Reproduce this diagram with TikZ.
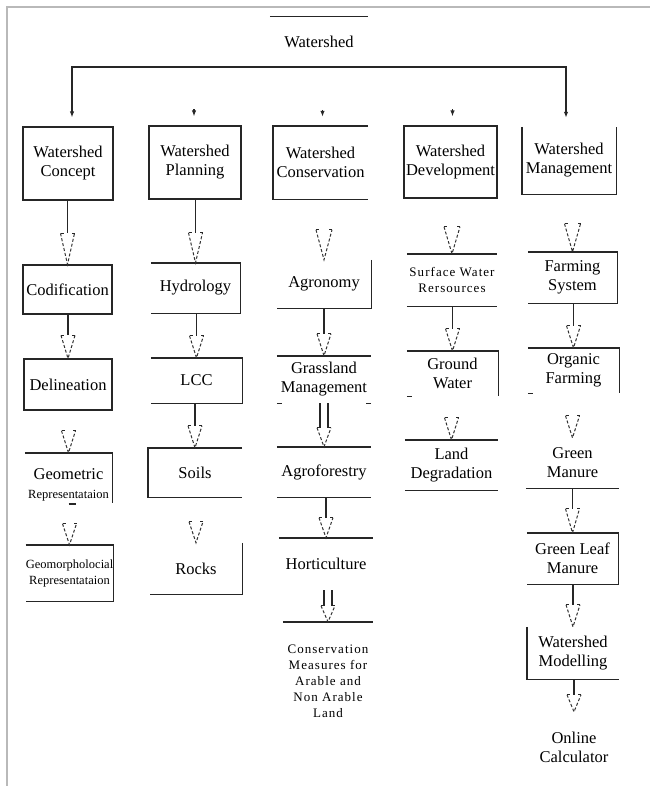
\documentclass[tikz,border=0pt]{standalone}
\usepackage{fontspec}
\setmainfont{Liberation Serif}
\usetikzlibrary{calc,arrows.meta}

% solid shaft from the bottom of #1 down to the top of the head above #2
\newcommand{\flowstem}[3]{\draw[stemline] (#1.south -| #2.north) -- ($(#2.north)+(0,-#3)$);}
% two parallel shafts
\newcommand{\flowtwin}[3]{\draw[stemline] ($(#1.south -| #2.north)+(-4,0)$) -- ($(#2.north)+(-4,-#3)$)
  ($(#1.south -| #2.north)+(4,0)$) -- ($(#2.north)+(4,-#3)$);}
% open dashed head with its tip on top of #2
\newcommand{\flowhead}[3][7]{\draw[headline] ($(#2.north)+(-#1,-#3)$) -- (#2.north) -- ($(#2.north)+(#1,-#3)$);
  \draw[stemline,line width=1bp] ($(#2.north)+(-#1,-#3)$) -- ++(3,0) ($(#2.north)+(#1,-#3)$) -- ++(-3,0);}

\begin{document}
\begin{tikzpicture}[x=1bp,y=-1bp,>={Latex[length=6bp,width=4.5bp]},
  lab/.style={align=center,inner sep=0pt,font=\fontsize{16.5bp}{19bp}\selectfont},
  sublab/.style={lab,font=\fontsize{13bp}{16bp}\selectfont\addfontfeatures{LetterSpace=8}},
  finelab/.style={lab,font=\fontsize{12.5bp}{16bp}\selectfont},
  box/.style 2 args={minimum width=#1bp,minimum height=#2bp},
  framed/.style={draw=black!85,line width=1.2bp},
  edge/.style={draw=black!85,line width=1.4bp},
  stemline/.style={draw=black!85,line width=1.3bp},
  headline/.style={draw=black!80,line width=1bp,dash pattern=on 3bp off 2bp}]
\useasboundingbox (0,0) rectangle (650,786);
\draw[gray!55,line width=1.5bp] (7,786) -- (7,7) -- (650,7);

\node (root) at (319,42)[lab,box={98}{50}]{Watershed};
\draw[edge] (root.north west) -- (root.north east);

% column 1
\node (concept) at (68,163.5)[lab,framed,box={90}{73}]{Watershed\\Concept};
\node (codif) at (67.5,289.5)[lab,framed,box={89}{49}]{Codification};
\node (delin) at (68,384.5)[lab,framed,box={88}{51}]{Delineation};
\node (geomet) at (68.5,485)[lab,box={87}{64}]{Geometric\\{\fontsize{12.5bp}{15bp}\selectfont Representataion}};
\node (geomorph) at (69.5,573)[finelab,box={85}{56}]{Geomorpholocial\\Representataion};

% column 2
\node (planning) at (195,162.5)[lab,framed,box={92}{73}]{Watershed\\Planning};
\node (hydro) at (195.5,288)[lab,box={89}{50}]{Hydrology};
\node (lcc) at (196.5,380.5)[lab,box={91}{45}]{LCC};
\node (soils) at (195,472.5)[lab,box={94}{49}]{Soils};
\node (rocks) at (196,568.5)[lab,box={92}{51}]{Rocks};

% column 3
\node (conserv) at (320.5,162.5)[lab,box={95}{73}]{Watershed\\Conservation};
\node (agron) at (324,284)[lab,box={94}{48}]{Agronomy};
\node (grass) at (324,379.5)[lab,box={94}{47}]{Grassland\\Management};
\node (agrofor) at (324,472)[lab,box={94}{50}]{Agroforestry};
\node (horti) at (326,564)[lab,box={94}{52}]{Horticulture};
\node (consmeas) at (328,681.5)[sublab,box={90}{119}]{Conservation\\Measures for\\Arable and\\Non Arable\\Land};

% column 4
\node (develop) at (450.5,162)[lab,framed,box={93}{72}]{Watershed\\Development};
\node (surface) at (452,280)[sublab,box={90}{52}]{Surface Water\\Rersources};
\node (ground) at (452.5,373.5)[lab,box={91}{45}]{Ground\\Water};
\node (landdeg) at (451.5,465)[lab,box={93}{50}]{Land\\Degradation};

% column 5
\node (manage) at (569,160.5)[lab,box={94}{67}]{Watershed\\Management};
\node (farming) at (572.5,277.5)[lab,box={89}{51}]{Farming\\System};
\node (organic) at (573.5,370.5)[lab,box={91}{45}]{Organic\\Farming};
\node (greenman) at (572.5,463)[lab,box={93}{50}]{Green\\Manure};
\node (greenleaf) at (572.5,558.5)[lab,box={91}{51}]{Green Leaf\\Manure};
\node (model) at (573,653)[lab,box={92}{52}]{Watershed\\Modelling};
\node (online) at (574,747)[lab,box={88}{70}]{Online\\Calculator};

% broken box outlines
\draw[edge] (geomet.north west) -- (geomet.north east) -- ++(0,50);
\draw[edge] ($(geomet.north)+(0,51)$) -- ++(7,0);
\draw[edge] (geomorph.north west) -- (geomorph.north east) -- (geomorph.south east) -- (geomorph.south west);
\draw[edge] (hydro.north west) -- (hydro.north east) -- (hydro.south east) -- (hydro.south west);
\draw[edge] (lcc.north west) -- (lcc.north east) -- (lcc.south east) -- (lcc.south west);
\draw[edge] (soils.north east) -- (soils.north west) -- (soils.south west) -- (soils.south east);
\draw[edge] (rocks.north east) -- (rocks.south east) -- (rocks.south west);
\draw[edge] (conserv.north east) -- (conserv.north west) -- (conserv.south west) -- (conserv.south east);
\draw[edge] (agron.north east) -- (agron.south east) -- (agron.south west);
\draw[edge] (grass.north west) -- (grass.north east);
\draw[edge] (grass.south west) -- ++(5,0) (grass.south east) -- ++(-5,0);
\draw[edge] (agrofor.north west) -- (agrofor.north east) (agrofor.south west) -- (agrofor.south east);
\draw[edge] (horti.north west) -- (horti.north east);
\draw[edge] (consmeas.north west) -- (consmeas.north east);
\draw[edge] (surface.north west) -- (surface.north east) (surface.south west) -- (surface.south east);
\draw[edge] (ground.north west) -- (ground.north east) -- (ground.south east);
\draw[edge] (ground.south west) -- ++(5,0);
\draw[edge] (landdeg.north west) -- (landdeg.north east) (landdeg.south west) -- (landdeg.south east);
\draw[edge] (manage.north west) -- (manage.south west) -- (manage.south east) -- (manage.north east);
\draw[edge] (farming.north west) -- (farming.north east) -- (farming.south east) -- (farming.south west);
\draw[edge] (organic.north west) -- (organic.north east) -- (organic.south east);
\draw[edge] (organic.south west) -- ++(5,0);
\draw[edge] (greenman.south west) -- (greenman.south east);
\draw[edge] (greenleaf.north west) -- (greenleaf.north east) -- (greenleaf.south east) -- (greenleaf.south west);
\draw[edge] (model.north west) -- (model.south west) -- (model.south east);

% branches from the root
\draw[edge,<->] ($(concept.north)+(4,-9)$) |- (root.south) -| ($(manage.north)+(-3,-9)$);
\draw[edge,->] ($(planning.north)+(-1,-16)$) -- ($(planning.north)+(-1,-9)$);
\draw[edge,->] ($(conserv.north)+(2,-16)$) -- ($(conserv.north)+(2,-9)$);
\draw[edge,->] ($(develop.north)+(2,-16)$) -- ($(develop.north)+(2,-9)$);

% column links
\flowstem{concept}{codif}{31} \flowhead{codif}{31}
\flowstem{codif}{delin}{23} \flowhead{delin}{23}
\flowhead{geomet}{22}
\flowhead{geomorph}{21}
\flowstem{planning}{hydro}{30} \flowhead{hydro}{30}
\flowstem{hydro}{lcc}{22} \flowhead{lcc}{22}
\flowstem{lcc}{soils}{22} \flowhead{soils}{22}
\flowhead{rocks}{21}
\flowhead[8]{agron}{30}
\flowstem{agron}{grass}{22} \flowhead{grass}{22}
\flowtwin{grass}{agrofor}{19} \flowhead{agrofor}{19}
\flowstem{agrofor}{horti}{20} \flowhead{horti}{20}
\flowtwin{horti}{consmeas}{16} \flowhead{consmeas}{16}
\flowhead[8]{surface}{27}
\flowstem{surface}{ground}{22} \flowhead{ground}{22}
\flowhead{landdeg}{22}
\flowhead[8]{farming}{28}
\flowstem{farming}{organic}{22} \flowhead{organic}{22}
\flowhead{greenman}{22}
\flowstem{greenman}{greenleaf}{24} \flowhead{greenleaf}{24}
\flowstem{greenleaf}{model}{22} \flowhead{model}{22}
\flowstem{model}{online}{17} \flowhead{online}{17}
\end{tikzpicture}
\end{document}
